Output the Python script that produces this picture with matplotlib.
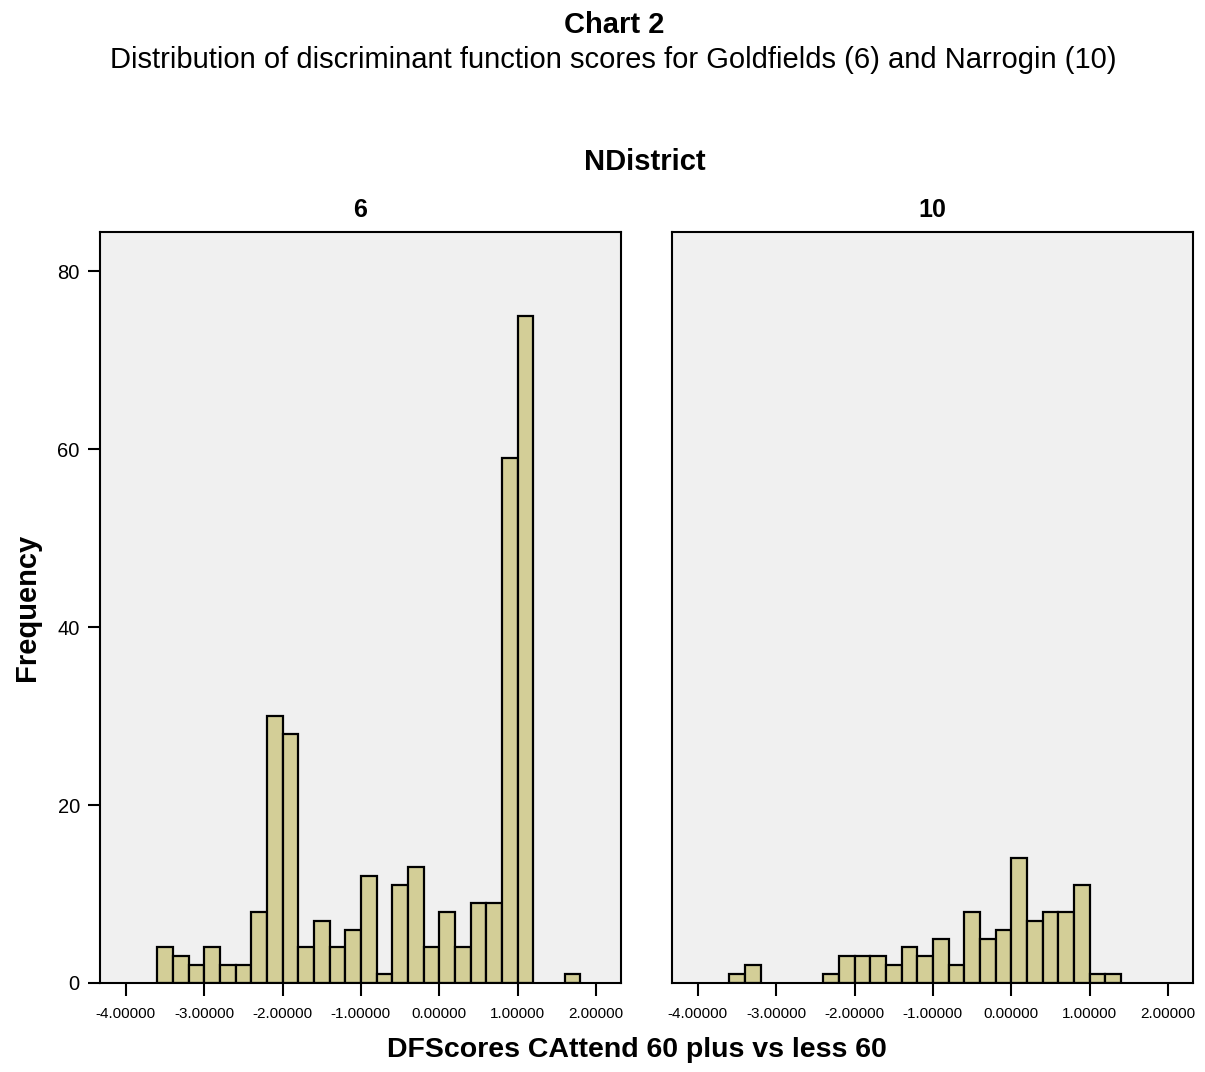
import numpy as np
from matplotlib import pyplot as plt

plt.rcParams['font.family'] = ['Liberation Sans', 'DejaVu Sans']

# bin edges of width 0.2, first bin starts at -3.6
bin_width = 0.2
bin_start = -3.6

# NDistrict 6 (Goldfields)
counts_6 = [4, 3, 2, 4, 2, 2, 8, 30, 28, 4, 7, 4, 6, 12, 1, 11, 13, 4, 8, 4, 9, 9, 59, 75,
            0, 0, 1]
# NDistrict 10 (Narrogin)
counts_10 = [1, 2, 0, 0, 0, 0, 1, 3, 3, 3, 2, 4, 3, 5, 2, 8, 5, 6, 14, 7, 8, 8, 11, 1, 1]

panels = ['6', '10']
x_ticks = [-4, -3, -2, -1, 0, 1, 2]
y_ticks = [0, 20, 40, 60, 80]

W, H = 1205, 1072
fig = plt.figure(figsize=(W / 100, H / 100), dpi=100)

bar_color = '#d3ce97'
bg_color = '#f0f0f0'


def px(x, y):
    return x / W, 1 - y / H


axes = []
for i, (name, counts) in enumerate(zip(panels, [counts_6, counts_10])):
    left = [100, 672][i]
    ax = fig.add_axes([left / W, 1 - 983 / H, 521 / W, (983 - 232) / H])
    ax.set_facecolor(bg_color)
    counts = np.array(counts)
    edges = bin_start + bin_width * np.arange(len(counts))
    keep = counts > 0
    ax.bar(edges[keep], counts[keep], width=bin_width, align='edge',
           color=bar_color, edgecolor='black', linewidth=1.6, zorder=2)
    ax.set_xlim(-4.33, 2.32)
    ax.set_ylim(0, 84.4)
    ax.set_xticks(x_ticks)
    ax.set_xticklabels(['%.5f' % t for t in x_ticks], fontsize=11)
    ax.tick_params(axis='x', direction='out', length=9.5, width=1.5, pad=8)
    if i == 0:
        ax.set_yticks(y_ticks)
        ax.tick_params(axis='y', direction='out', length=9, width=1.5, labelsize=14.5, pad=5.5)
    else:
        ax.set_yticks([])
    for s in ax.spines.values():
        s.set_linewidth(1.5)
        s.set_color('black')
    fig.text(*px(left + 260.5, 210), name, ha='center', va='center',
             fontsize=18, fontweight='bold')
    axes.append(ax)

fig.text(*px(614, 25), 'Chart 2', ha='center', va='center', fontsize=21, fontweight='bold')
fig.text(*px(613, 60), 'Distribution of discriminant function scores for Goldfields (6) and Narrogin (10)',
         ha='center', va='center', fontsize=21)
fig.text(*px(645, 162), 'NDistrict', ha='center', va='center', fontsize=21, fontweight='bold')
fig.text(*px(27, 607), 'Frequency', ha='center', va='center', rotation=90,
         fontsize=21, fontweight='bold')
fig.text(*px(637, 1050), 'DFScores CAttend 60 plus vs less 60', ha='center', va='center',
         fontsize=20.5, fontweight='bold')

plt.savefig('out.png', dpi=100)
